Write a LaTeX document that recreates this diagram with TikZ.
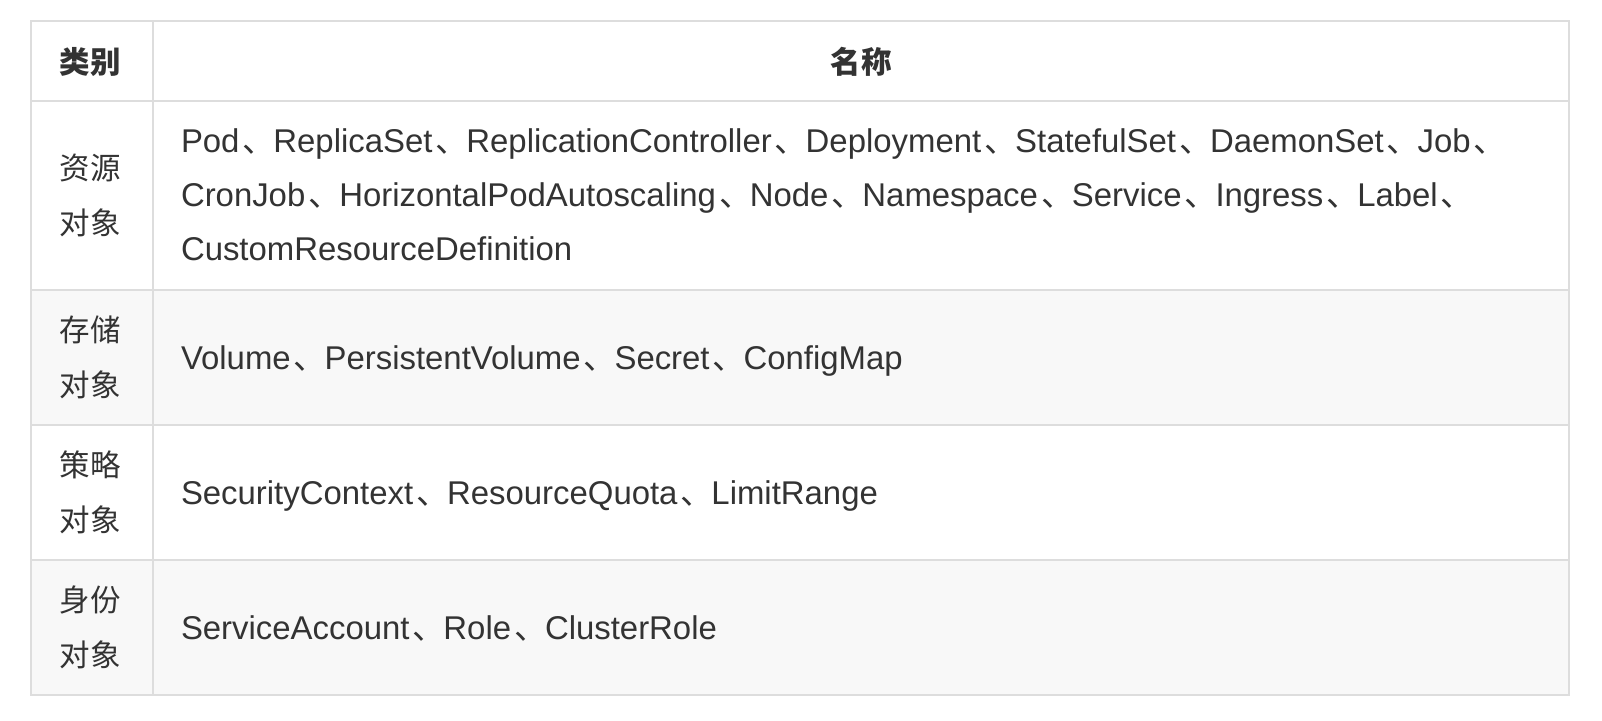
\documentclass[tikz,border=0pt]{standalone}
\usepackage{fontspec}
\setmainfont{Liberation Sans}
\newfontfamily\cjk{Noto Sans CJK SC}
\newcommand{\dun}{\kern3pt{\cjk 、}\kern-2pt}
\definecolor{txt}{HTML}{333333}
\definecolor{gridc}{HTML}{DDDDDD}
\definecolor{rowbg}{HTML}{F8F8F8}
\begin{document}
\begin{tikzpicture}[x=1pt,y=-1pt,
  cell/.style={inner sep=0pt,outer sep=0pt,text=txt},
  body/.style={cell,anchor=base west,font=\fontsize{32.9}{36}\selectfont},
  lab/.style={cell,anchor=base,font=\fontsize{30.5}{34}\selectfont\cjk},
  head/.style={lab,font=\fontsize{30.5}{34}\selectfont\cjk\bfseries},
  rule/.style={draw=gridc,line width=2pt}]
\useasboundingbox (0,0) rectangle (1602,720);
\fill[white] (0,0) rectangle (1602,720);
% shaded rows
\fill[rowbg] (31,290) rectangle (1569,425);
\fill[rowbg] (31,560) rectangle (1569,695);
% grid
\draw[rule] (31,21) rectangle (1569,695);
\draw[rule] (152.5,21) -- (152.5,695);
\draw[rule] (31,101) -- (1569,101);
\draw[rule] (31,290) -- (1569,290);
\draw[rule] (31,425) -- (1569,425);
\draw[rule] (31,560) -- (1569,560);
% header
\node[head] (h1) at (90,73) {类别};
\node[head] (h2) at (861,73) {名称};
% row 1
\node[lab] (c1a) at (90,179.5) {资源};
\node[lab] (c1b) at (90,234.5) {对象};
\node[body] (r1a) at (181,152.5) {Pod\dun ReplicaSet\dun ReplicationController\dun Deployment\dun StatefulSet\dun DaemonSet\dun Job\dun};
\node[body] (r1b) at (181,206.5) {CronJob\dun HorizontalPodAutoscaling\dun Node\dun Namespace\dun Service\dun Ingress\dun Label\dun};
\node[body] (r1c) at (181,260.5) {CustomResourceDefinition};
% row 2
\node[lab] (c2a) at (90,341.5) {存储};
\node[lab] (c2b) at (90,396.5) {对象};
\node[body] (r2) at (181,369) {Volume\dun PersistentVolume\dun Secret\dun ConfigMap};
% row 3
\node[lab] (c3a) at (90,476.5) {策略};
\node[lab] (c3b) at (90,531.5) {对象};
\node[body] (r3) at (181,504) {SecurityContext\dun ResourceQuota\dun LimitRange};
% row 4
\node[lab] (c4a) at (90,611.5) {身份};
\node[lab] (c4b) at (90,666.5) {对象};
\node[body] (r4) at (181,639) {ServiceAccount\dun Role\dun ClusterRole};
\end{tikzpicture}
\end{document}
